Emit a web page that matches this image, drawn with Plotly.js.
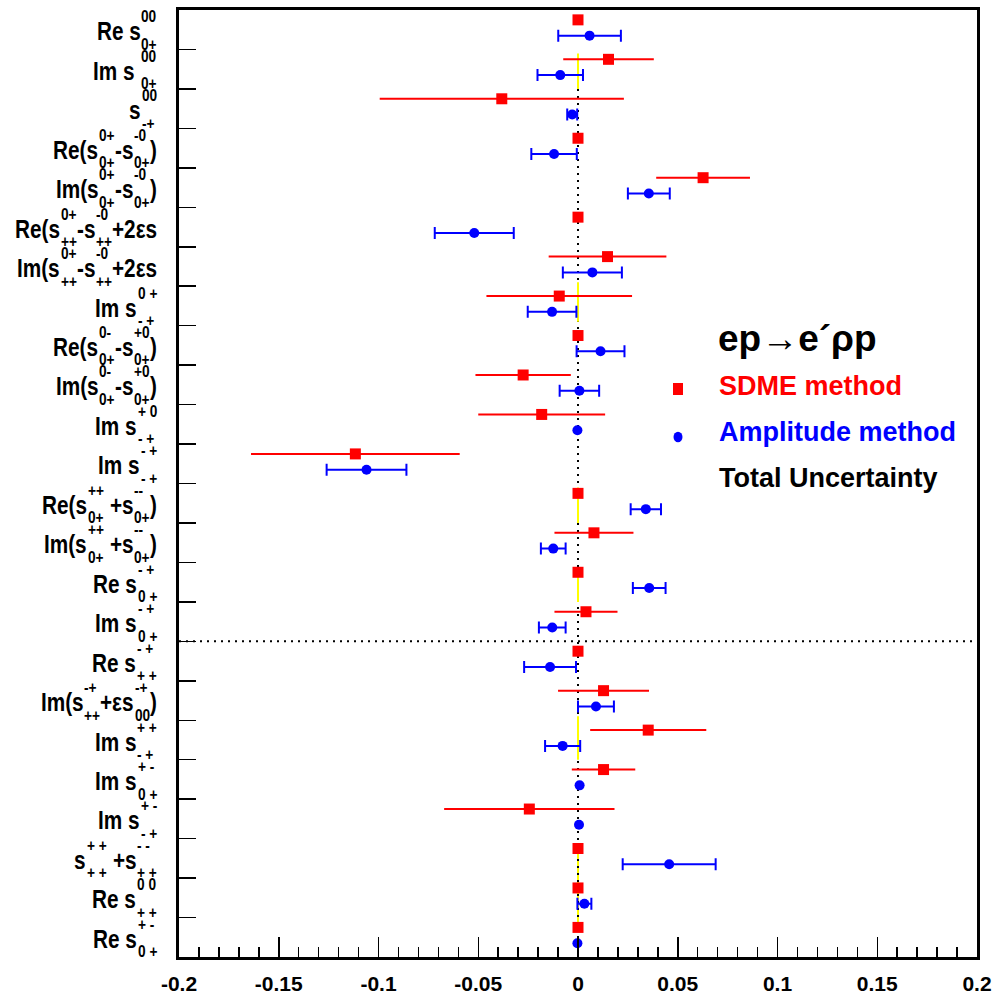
<!DOCTYPE html>
<html><head><meta charset="utf-8">
<script src="https://cdn.plot.ly/plotly-3.0.1.min.js"></script>
<style>html,body{margin:0;padding:0;background:#fff}#chart{width:993px;height:997px}</style>
</head><body><div id="chart"></div>
<script>
// ---- data ----
const labels = [
  'Re s^{00}_{0+}',
  'Im s ^{00}_{0+}',
  's^{00}_{-+}',
  'Re(s^{0+}_{0+}-s^{-0}_{0+})',
  'Im(s^{0+}_{0+}-s^{-0}_{0+})',
  'Re(s^{0+}_{++}-s^{-0}_{++}+2εs',
  'Im(s^{0+}_{++}-s^{-0}_{++}+2εs',
  'Im s^{0 +}_{- +}',
  'Re(s^{0-}_{0+}-s^{+0}_{0+})',
  'Im(s^{0-}_{0+}-s^{+0}_{0+})',
  'Im s^{+ 0}_{- +}',
  'Im s^{- +}_{- +}',
  'Re(s^{++}_{0+} +s^{--}_{0+})',
  'Im(s^{++}_{0+} +s^{--}_{0+})',
  'Re s^{- +}_{0 +}',
  'Im s^{- +}_{0 +}',
  'Re s^{- +}_{+ +}',
  'Im(s^{-+}_{++}+εs^{-+}_{00})',
  'Im s^{+ +}_{- +}',
  'Im s^{+ -}_{0 +}',
  'Im s^{+ -}_{- +}',
  's^{+ +}_{+ +} +s^{- -}_{+ +}',
  'Re s^{0 0}_{+ +}',
  'Re s^{+ -}_{0 +}'
];
const sdmeValues = [0, 0.0153, -0.0382, 0, 0.0627, 0, 0.0148, -0.0094, 0, -0.0275, -0.0182, -0.1116,
                    0, 0.0080, 0, 0.0040, 0, 0.0128, 0.0352, 0.0128, -0.0244, 0, 0, 0];
const sdmeErrors = [0, 0.0227, 0.0612, 0, 0.0235, 0, 0.0295, 0.0365, 0, 0.0239, 0.0318, 0.0523,
                    0, 0.0198, 0, 0.0158, 0, 0.0228, 0.0291, 0.0159, 0.0427, 0, 0, 0];
const ampValues  = [0.0058, -0.0089, -0.0029, -0.0120, 0.0355, -0.0520, 0.0072, -0.0130, 0.0113, 0.0007, -0.0003, -0.1060,
                    0.0340, -0.0124, 0.0357, -0.0129, -0.0140, 0.0090, -0.0077, 0.0008, 0.0005, 0.0457, 0.0032, -0.0003];
const ampErrors  = [0.0157, 0.0114, 0.0025, 0.0114, 0.0105, 0.0198, 0.0148, 0.0122, 0.0120, 0.0099, 0, 0.0200,
                    0.0076, 0.0062, 0.0082, 0.0067, 0.0130, 0.0090, 0.0088, 0, 0, 0.0233, 0.0035, 0];
const xTickValues = [-0.2, -0.15, -0.1, -0.05, 0, 0.05, 0.1, 0.15, 0.2];
const xTickLabels = ['-0.2', '-0.15', '-0.1', '-0.05', '0', '0.05', '0.1', '0.15', '0.2'];
// yellow "total uncertainty" segments along x=0, in row units [from, to, drawnUnderDots]
const yellowSpans = [[0.6, 1.5, false], [6.4, 7.4, false], [11.6, 12.5, false], [13.8, 14.5, false], [17.4, 18.5, false], [20.8, 22.8, true]];
const dottedFromRow = 1.5;       // vertical zero line starts here
const separatorAfterRow = 15.5;  // horizontal dotted separator
const legendTitle = 'ep→e´ρp';
const legendItems = ['SDME method', 'Amplitude method', 'Total Uncertainty'];

// ---- layout helpers ----
const W = 993, H = 997, M = {l: 179, r: 16, t: 10, b: 40};
const PW = W - M.l - M.r, PH = H - M.t - M.b;
const N = labels.length;
const rows = labels.map((_, i) => i);
const RED_OFF = -0.25, BLUE_OFF = 0.15;
const px2x = px => (px - M.l) / PW;
const px2y = py => 1 - (py - M.t) / PH;

const LFAM = "'Liberation Sans', Arial, sans-serif";
const MAIN_SIZE = 25, SCR_SIZE = 16.5, SX = 0.83;   // condensed label lettering
const cv = document.createElement('canvas').getContext('2d');
function tw(text, size) { cv.font = 'bold ' + size + 'px ' + LFAM; return cv.measureText(text).width * SX; }

function parseLabel(s) {
  const parts = []; let i = 0, buf = '';
  while (i < s.length) {
    const c = s[i];
    if ((c === '^' || c === '_') && s[i + 1] === '{') {
      if (buf) { parts.push({t: 'm', text: buf}); buf = ''; }
      const end = s.indexOf('}', i);
      const content = s.slice(i + 2, end);
      let last = parts[parts.length - 1];
      if (!last || last.t !== 's') { last = {t: 's', sup: '', sub: ''}; parts.push(last); }
      if (c === '^') last.sup = content; else last.sub = content;
      i = end + 1;
    } else { buf += c; i++; }
  }
  if (buf) parts.push({t: 'm', text: buf});
  return parts;
}

const annotations = [];
const X_RIGHT = 157, SCR_GAP = 1;
labels.forEach((lab, k) => {
  const parts = parseLabel(lab);
  parts.forEach(p => {
    if (p.t === 'm') p.w = tw(p.text, MAIN_SIZE);
    else p.w = SCR_GAP + Math.max(tw(p.sup, SCR_SIZE), tw(p.sub, SCR_SIZE));
  });
  const total = parts.reduce((a, p) => a + p.w, 0);
  let x = X_RIGHT - total;
  const base = {xref: 'paper', yref: 'y', y: k - 0.5, yanchor: 'middle', xanchor: 'left',
                showarrow: false, borderpad: 0, borderwidth: 0};
  parts.forEach(p => {
    if (p.t === 'm') {
      const trimmed = p.text.trim();
      const lead = p.w - tw(p.text.trimStart(), MAIN_SIZE);
      annotations.push(Object.assign({}, base, {x: px2x(x + lead), text: trimmed, yshift: -21.3,
        font: {family: LFAM, size: MAIN_SIZE, color: '#000', weight: 'bold'}}));
    } else {
      if (p.sup) annotations.push(Object.assign({}, base, {x: px2x(x + SCR_GAP), text: p.sup, yshift: -6.3,
        font: {family: LFAM, size: SCR_SIZE, color: '#000', weight: 'bold'}}));
      if (p.sub) annotations.push(Object.assign({}, base, {x: px2x(x + SCR_GAP), text: p.sub, yshift: -33.8,
        font: {family: LFAM, size: SCR_SIZE, color: '#000', weight: 'bold'}}));
    }
    x += p.w;
  });
});
const labelAnnCount = annotations.length;

// legend text
annotations.push({xref: 'paper', yref: 'paper', x: px2x(716), y: px2y(338), xanchor: 'left', yanchor: 'middle',
  showarrow: false, text: legendTitle, font: {family: LFAM, size: 37, color: '#000', weight: 'bold'}});
const legColors = ['#ff0000', '#0000ff', '#000000'];
const legY = [386, 432, 478];
legendItems.forEach((t, i) => annotations.push({xref: 'paper', yref: 'paper', x: px2x(717), y: px2y(legY[i]),
  xanchor: 'left', yanchor: 'middle', showarrow: false, text: t,
  font: {family: LFAM, size: 27, color: legColors[i], weight: 'bold'}}));

// shapes
const shapes = [];
const yellowShape = s => ({type: 'line', xref: 'x', yref: 'y', x0: 0, x1: 0, y0: s[0], y1: s[1],
  line: {color: '#ffff00', width: 2}, layer: 'below'});
yellowSpans.filter(s => s[2]).forEach(s => shapes.push(yellowShape(s)));
shapes.push({type: 'line', xref: 'x', yref: 'y', x0: 0, x1: 0, y0: dottedFromRow, y1: N - 0.5,
  line: {color: '#000', width: 2, dash: '2px,5px'}, layer: 'below'});
yellowSpans.filter(s => !s[2]).forEach(s => shapes.push(yellowShape(s)));
shapes.push({type: 'line', xref: 'paper', yref: 'y', x0: 0, x1: 1, y0: separatorAfterRow, y1: separatorAfterRow,
  line: {color: '#000', width: 2, dash: '2px,5px'}, layer: 'below'});
// legend symbols
shapes.push({type: 'rect', xref: 'paper', yref: 'paper', xsizemode: 'pixel', ysizemode: 'pixel',
  xanchor: px2x(678), yanchor: px2y(389), x0: -5, x1: 5, y0: -6, y1: 6, fillcolor: '#ff0000', line: {width: 0}});
shapes.push({type: 'circle', xref: 'paper', yref: 'paper', xsizemode: 'pixel', ysizemode: 'pixel',
  xanchor: px2x(678), yanchor: px2y(437), x0: -4.5, x1: 4.5, y0: -5.2, y1: 5.2, fillcolor: '#0000ff', line: {width: 0}});

const nz = a => a.map(e => (e > 0 ? e : NaN));
const traces = [
  {type: 'scatter', mode: 'markers', name: 'Amplitude method', x: ampValues, y: rows.map(r => r + BLUE_OFF),
   marker: {symbol: 'circle', size: 10, color: '#0000ff'},
   error_x: {type: 'data', array: nz(ampErrors), visible: true, color: '#0000ff', thickness: 2, width: 6}},
  {type: 'scatter', mode: 'markers', name: 'SDME method', x: sdmeValues, y: rows.map(r => r + RED_OFF),
   marker: {symbol: 'square', size: 11, color: '#ff0000'},
   error_x: {type: 'data', array: nz(sdmeErrors), visible: true, color: '#ff0000', thickness: 2, width: 0}}
];

const boundaries = rows.slice(0, N - 1).map(r => r + 0.5);
const layout = {
  width: W, height: H, margin: M, showlegend: false,
  paper_bgcolor: '#fff', plot_bgcolor: '#fff',
  xaxis: {range: [-0.2, 0.2], tickmode: 'array', tickvals: xTickValues, ticktext: xTickLabels,
          ticks: 'inside', ticklen: 20, tickwidth: 1.5, tickcolor: '#000',
          minor: {tickmode: 'linear', tick0: 0, dtick: 0.01, ticks: 'inside', ticklen: 10, tickwidth: 1.5, tickcolor: '#000'},
          showline: true, linewidth: 3, linecolor: '#000', mirror: true, showgrid: false, zeroline: false,
          ticklabelstandoff: 6,
          tickfont: {family: LFAM, size: 21, color: '#000', weight: 'bold'}},
  yaxis: {range: [N - 0.5, -0.5], tickmode: 'array', tickvals: boundaries, showticklabels: false,
          ticks: 'inside', ticklen: 17, tickwidth: 1.5, tickcolor: '#000',
          showline: true, linewidth: 3, linecolor: '#000', mirror: true, showgrid: false, zeroline: false},
  annotations: annotations, shapes: shapes
};

// condense the row-label lettering horizontally about each text's left edge
function condenseLabels() {
  document.querySelectorAll('#chart g.annotation').forEach(g => {
    const idx = +g.getAttribute('data-index');
    if (!(idx < labelAnnCount)) return;
    const t = g.querySelector('text.annotation-text');
    if (!t) return;
    const bb = t.getBBox();
    const prev = t.getAttribute('transform') || '';
    t.setAttribute('transform', prev + ' translate(' + bb.x + ',0) scale(' + SX + ',1) translate(' + (-bb.x) + ',0)');
  });
}
Plotly.newPlot('chart', traces, layout, {staticPlot: true, displayModeBar: false}).then(condenseLabels);
</script></body></html>
